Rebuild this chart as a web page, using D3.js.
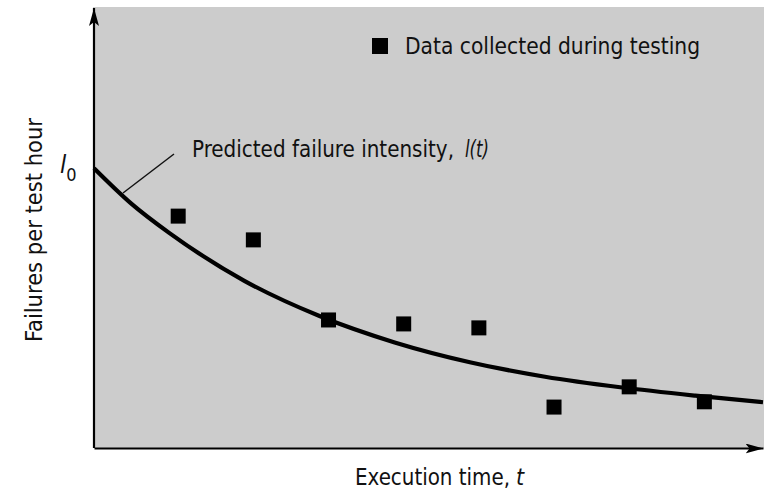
<!DOCTYPE html>
<html>
<head>
<meta charset="utf-8">
<script src="https://cdn.jsdelivr.net/npm/d3@7"></script>
<style>
  html, body { margin: 0; padding: 0; background: #ffffff; }
  svg { display: block; }
  text { font-family: "DejaVu Sans Condensed", "DejaVu Sans", sans-serif; fill: #111; }
</style>
</head>
<body>
<svg id="chart" width="764" height="491"></svg>
<script>
// ---- data ----
const testTimes      = [1.12, 2.12, 3.12, 4.12, 5.12, 6.12, 7.12, 8.12];   // execution time of observations
const observedRates  = [5.27, 4.73, 2.91, 2.82, 2.73, 0.93, 1.39, 1.05];   // failures per test hour
const curveTimes     = [0, 0.5, 1, 2, 3, 4, 5, 6, 7, 8, 8.9];               // predicted curve sample points
const curveRates     = [6.36, 5.55, 4.89, 3.80, 3.00, 2.40, 1.95, 1.62, 1.38, 1.19, 1.04];
const legendLabel    = "Data collected during testing";
const curveLabel     = "Predicted failure intensity,";
const curveLabelFn   = "l(t)";
const xAxisLabel     = "Execution time,";
const xAxisVar       = "t";
const yAxisLabel     = "Failures per test hour";

const svg = d3.select("#chart");
const W = 764, H = 491;
const mLeft = 94, mRight = 763, mTop = 8, mBottom = 448;

const x = d3.scaleLinear().domain([0, 8.9]).range([mLeft, mRight]);
const y = d3.scaleLinear().domain([0, 10]).range([mBottom, mTop]);

// gray plot background
svg.append("rect")
  .attr("x", mLeft - 1).attr("y", mTop - 1)
  .attr("width", W - mLeft + 1).attr("height", mBottom - mTop + 1)
  .attr("fill", "#cccccc");

// arrow marker
const defs = svg.append("defs");
defs.append("marker")
  .attr("id", "arrow")
  .attr("viewBox", "0 0 18 10")
  .attr("refX", 18).attr("refY", 5)
  .attr("markerUnits", "userSpaceOnUse")
  .attr("markerWidth", 18).attr("markerHeight", 10)
  .attr("orient", "auto")
  .append("path").attr("d", "M0,0 L18,5 L0,10 L4,5 Z").attr("fill", "#000");

// axes (no ticks) via d3 axis generators
const xAxis = svg.append("g").attr("transform", `translate(0,${mBottom})`)
  .call(d3.axisBottom(x).tickValues([]).tickSizeOuter(0));
xAxis.select(".domain").attr("stroke", "#000").attr("stroke-width", 2.2)
  .attr("marker-end", "url(#arrow)");

const yAxis = svg.append("g").attr("transform", `translate(${mLeft},0)`)
  .call(d3.axisLeft(y).tickValues([]).tickSizeOuter(0));
yAxis.select(".domain").attr("stroke", "#000").attr("stroke-width", 2.2)
  .attr("d", `M0,${mBottom} V${mTop}`)
  .attr("marker-end", "url(#arrow)");

// predicted curve
const curveData = curveTimes.map((t, i) => ({t, v: curveRates[i]}));
const line = d3.line().x(d => x(d.t)).y(d => y(d.v)).curve(d3.curveMonotoneX);
svg.append("path")
  .datum(curveData)
  .attr("d", line)
  .attr("fill", "none")
  .attr("stroke", "#000")
  .attr("stroke-width", 4.2);

// observed squares
const sq = 15;
svg.append("g").selectAll("rect")
  .data(testTimes.map((t, i) => ({t, v: observedRates[i]})))
  .join("rect")
  .attr("x", d => x(d.t) - sq / 2)
  .attr("y", d => y(d.v) - sq / 2)
  .attr("width", sq).attr("height", sq)
  .attr("fill", "#000");

// leader line for the curve label
svg.append("line")
  .attr("x1", 123).attr("y1", 193)
  .attr("x2", 174).attr("y2", 154)
  .attr("stroke", "#111").attr("stroke-width", 1.5);

// curve label
svg.append("text")
  .attr("x", 192).attr("y", 157)
  .attr("font-size", 23)
  .attr("textLength", 262).attr("lengthAdjust", "spacingAndGlyphs")
  .text(curveLabel);
svg.append("text")
  .attr("x", 465).attr("y", 157)
  .attr("font-size", 23).attr("font-style", "italic")
  .attr("textLength", 24).attr("lengthAdjust", "spacingAndGlyphs")
  .text(curveLabelFn);

// legend
svg.append("rect")
  .attr("x", 372).attr("y", 38).attr("width", 16).attr("height", 16)
  .attr("fill", "#000");
svg.append("text")
  .attr("x", 405).attr("y", 54)
  .attr("font-size", 23)
  .attr("textLength", 295).attr("lengthAdjust", "spacingAndGlyphs")
  .text(legendLabel);

// x-axis label
svg.append("text")
  .attr("x", 355).attr("y", 485)
  .attr("font-size", 23)
  .attr("textLength", 155).attr("lengthAdjust", "spacingAndGlyphs")
  .text(xAxisLabel);
svg.append("text")
  .attr("x", 516).attr("y", 485)
  .attr("font-size", 23).attr("font-style", "italic")
  .text(xAxisVar);

// y-axis label
svg.append("text")
  .attr("transform", "translate(42,230) rotate(-90)")
  .attr("text-anchor", "middle")
  .attr("font-size", 23)
  .attr("textLength", 224).attr("lengthAdjust", "spacingAndGlyphs")
  .text(yAxisLabel);

// lambda-zero label
const l0 = svg.append("text")
  .attr("x", 60).attr("y", 173)
  .attr("font-size", 25);
l0.append("tspan").attr("font-style", "italic").text("l");
l0.append("tspan").attr("font-size", 18).attr("dy", 8).text("0");
</script>
</body>
</html>
